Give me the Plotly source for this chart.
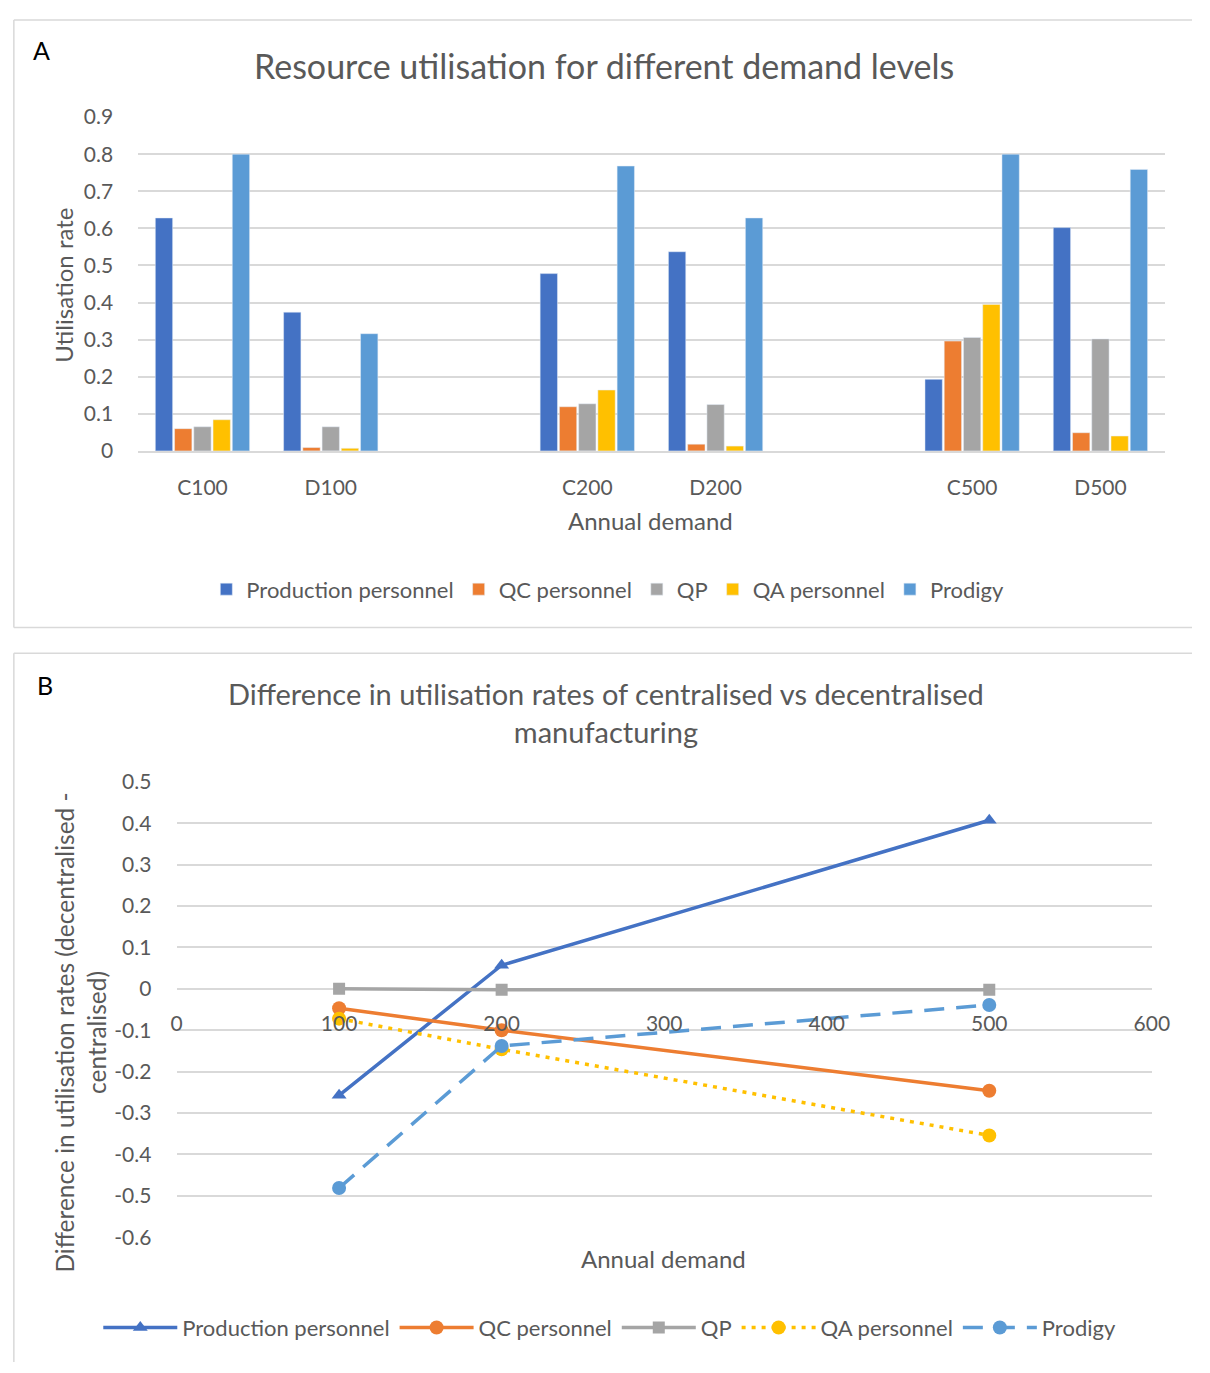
import plotly.graph_objects as go

W, H = 1210, 1373  # reference canvas; positions below are given in its pixels

# ---------------- data ----------------
categories = ["C100", "D100", " ", "C200", "D200", "  ", "C500", "D500"]
production = [0.628, 0.374, None, 0.478, 0.537, None, 0.193, 0.602]
qc = [0.060, 0.009, None, 0.119, 0.018, None, 0.296, 0.049]
qp = [0.065, 0.065, None, 0.127, 0.125, None, 0.306, 0.302]
qa = [0.084, 0.007, None, 0.164, 0.013, None, 0.395, 0.040]
prodigy = [0.800, 0.316, None, 0.768, 0.628, None, 0.800, 0.759]

demand = [100, 200, 500]
diff_production = [-0.257, 0.057, 0.407]
diff_qc = [-0.047, -0.100, -0.246]
diff_qp = [0.0, -0.002, -0.002]
diff_qa = [-0.072, -0.146, -0.354]
diff_prodigy = [-0.481, -0.138, -0.039]

tickvals_b = [-0.6, -0.5, -0.4, -0.3, -0.2, -0.1, 0, 0.1, 0.2, 0.3, 0.4, 0.5]
ticktext_b = ["-0.6", "-0.5", "-0.4", "-0.3", "-0.2", "-0.1", "0", "0.1", "0.2", "0.3", "0.4", "0.5"]

# ---------------- style ----------------
FONT = "Lato"
TXT = "#595959"
GRID = "#d9d9d9"
C_PROD, C_QC, C_QP, C_QA, C_PRODIGY = "#4472C4", "#ED7D31", "#A5A5A5", "#FFC000", "#5B9BD5"


def fx(px):
    return px / W


def fy(py):
    return 1 - py / H


fig = go.Figure()

bar_series = [
    ("Production personnel", production, C_PROD),
    ("QC personnel", qc, C_QC),
    ("QP", qp, C_QP),
    ("QA personnel", qa, C_QA),
    ("Prodigy", prodigy, C_PRODIGY),
]
for name, vals, col in bar_series:
    fig.add_trace(go.Bar(x=categories, y=vals, name=name, marker=dict(color=col),
                         xaxis="x", yaxis="y", legend="legend"))

line_series = [
    ("Production personnel", diff_production, C_PROD, "solid", "triangle-up", 13),
    ("QC personnel", diff_qc, C_QC, "solid", "circle", 14),
    ("QP", diff_qp, C_QP, "solid", "square", 12),
    ("QA personnel", diff_qa, C_QA, "4px,6px", "circle", 14),
    ("Prodigy", diff_prodigy, C_PRODIGY, "20px,12px", "circle", 14),
]
for name, vals, col, dash, sym, sz in line_series:
    fig.add_trace(go.Scatter(x=demand, y=vals, name=name, mode="lines+markers",
                             line=dict(color=col, width=3.5, dash=dash),
                             marker=dict(color=col, symbol=sym, size=sz),
                             xaxis="x2", yaxis="y2", legend="legend2"))

tickfont = dict(family=FONT, size=21, color=TXT)

fig.update_layout(
    autosize=True,
    margin=dict(l=0, r=0, t=0, b=0, pad=0),
    paper_bgcolor="white", plot_bgcolor="white",
    font=dict(family=FONT, color=TXT),
    barmode="group", bargap=0.25, bargroupgap=0.1,
    xaxis=dict(domain=[fx(135), fx(1182)], type="category",
               categoryorder="array", categoryarray=categories,
               showgrid=False, showline=True, linecolor=GRID, linewidth=1.5,
               ticks="outside", ticklen=17, tickcolor="rgba(0,0,0,0)",
               tickfont=tickfont, anchor="y"),
    yaxis=dict(domain=[fy(445), fy(105)], range=[0, 0.9], dtick=0.1,
               showgrid=True, gridcolor=GRID, gridwidth=1.5, zeroline=False,
               showline=False, ticks="outside", ticklen=20,
               tickcolor="rgba(0,0,0,0)", tickfont=tickfont, anchor="x"),
    xaxis2=dict(domain=[fx(174), fx(1169)], range=[0, 600], dtick=100,
                anchor="free", position=fy(993.5), showgrid=False,
                zeroline=False, showline=False, ticks="outside", ticklen=15,
                tickcolor="rgba(0,0,0,0)", tickfont=tickfont),
    yaxis2=dict(domain=[fy(1246), fy(782)], range=[-0.6, 0.5],
                tickvals=tickvals_b, ticktext=ticktext_b,
                showgrid=True, gridcolor=GRID, gridwidth=1.5, zeroline=False,
                showline=False, ticks="outside", ticklen=20,
                tickcolor="rgba(0,0,0,0)", tickfont=tickfont, anchor="x2"),
    legend=dict(orientation="h", x=fx(614), xanchor="center", y=fy(586),
                yanchor="middle", font=dict(family=FONT, size=22, color=TXT),
                bgcolor="rgba(0,0,0,0)"),
    legend2=dict(orientation="h", x=fx(616), xanchor="center", y=fy(1338),
                 yanchor="middle", itemwidth=74,
                 font=dict(family=FONT, size=22, color=TXT),
                 bgcolor="rgba(0,0,0,0)"),
    showlegend=True,
)

# panel borders, kept inside the canvas (open on the right / bottom edge)
border = dict(color=GRID, width=1.5)
for x0, y0, x1, y1 in [
    (8, 6, 1210, 6), (8, 6, 8, 625), (8, 625, 1210, 625),      # panel A
    (8, 651, 1210, 651), (8, 651, 8, 1373),                    # panel B
]:
    fig.add_shape(type="line", xref="paper", yref="paper",
                  x0=fx(x0), y0=fy(y0), x1=fx(x1), y1=fy(y1),
                  line=border, layer="below")


def ann(text, x, y, size, color=TXT, angle=0):
    fig.add_annotation(text=text, xref="paper", yref="paper", x=fx(x), y=fy(y),
                       xanchor="center", yanchor="middle", showarrow=False,
                       textangle=angle, font=dict(family=FONT, size=size, color=color))


ann("A", 36, 37, 25, color="black")
ann("B", 40, 683, 25, color="black")
ann("Resource utilisation for different demand levels", 610, 52, 34)
ann("Difference in utilisation rates of centralised vs decentralised<br>manufacturing", 612, 711, 29)
ann("Utilisation rate", 59, 276, 24, angle=-90)
ann("Annual demand", 658, 516, 24)
ann("Difference in utilisation rates (decentralised -<br>centralised)", 76, 1037, 24.5, angle=-90)
ann("Annual demand", 671, 1268, 24)

fit_page = (
    "var gd=document.getElementById('{plot_id}');"
    "document.documentElement.style.margin='0';document.body.style.margin='0';"
    "document.documentElement.style.overflow='hidden';document.body.style.overflow='hidden';"
    "gd.style.position='fixed';gd.style.left='0px';gd.style.top='0px';"
    "gd.style.width='100vw';gd.style.height='100vh';"
    "Plotly.Plots.resize(gd);"
)

fig.write_html("out.html", default_width="100vw", default_height="100vh",
               post_script=fit_page)
